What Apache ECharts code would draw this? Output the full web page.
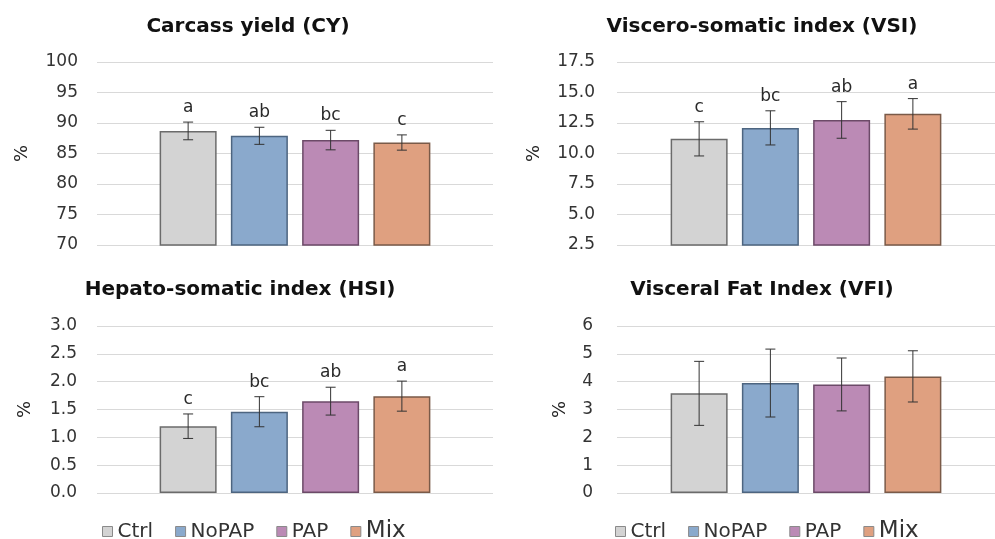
<!DOCTYPE html>
<html>
<head>
<meta charset="utf-8">
<script src="https://cdn.jsdelivr.net/npm/echarts@6/dist/echarts.min.js"></script>
<style>
  html, body { margin: 0; padding: 0; background: #ffffff; }
  #chart { width: 995px; height: 539px; }
</style>
</head>
<body>
<div id="chart"></div>
<script>
// Treatment groups
const groups = ['Ctrl', 'NoPAP', 'PAP', 'Mix'];

// Panel titles
const titles = [
  'Carcass yield (CY)',
  'Viscero-somatic index (VSI)',
  'Hepato-somatic index (HSI)',
  'Visceral Fat Index (VFI)'
];

// Means (%)
const cyMean  = [88.7, 87.9, 87.2, 86.8];
const vsiMean = [11.2, 12.1, 12.75, 13.25];
const hsiMean = [1.20, 1.46, 1.65, 1.74];
const vfiMean = [3.58, 3.95, 3.90, 4.19];

// Standard deviations (%)
const cySd  = [1.45, 1.40, 1.60, 1.25];
const vsiSd = [1.40, 1.40, 1.50, 1.25];
const hsiSd = [0.22, 0.27, 0.25, 0.27];
const vfiSd = [1.15, 1.22, 0.95, 0.92];

// Significance letters
const cyLetters  = ['a', 'ab', 'bc', 'c'];
const vsiLetters = ['c', 'bc', 'ab', 'a'];
const hsiLetters = ['c', 'bc', 'ab', 'a'];
const vfiLetters = ['', '', '', ''];

// Y-axis tick labels
const cyTicks  = [70, 75, 80, 85, 90, 95, 100];
const vsiTicks = [2.5, 5.0, 7.5, 10.0, 12.5, 15.0, 17.5];
const hsiTicks = [0.0, 0.5, 1.0, 1.5, 2.0, 2.5, 3.0];
const vfiTicks = [0, 1, 2, 3, 4, 5, 6];

const panels = [
  { mean: cyMean,  sd: cySd,  letters: cyLetters,  ticks: cyTicks,  decimals: 0 },
  { mean: vsiMean, sd: vsiSd, letters: vsiLetters, ticks: vsiTicks, decimals: 1 },
  { mean: hsiMean, sd: hsiSd, letters: hsiLetters, ticks: hsiTicks, decimals: 1 },
  { mean: vfiMean, sd: vfiSd, letters: vfiLetters, ticks: vfiTicks, decimals: 0 }
];

const FONT = 'DejaVu Sans';
const fills   = ['#d3d3d3', '#8aa9cc', '#bb8ab5', '#dfa080'];
const borders = ['#6b6b6b', '#4d6580', '#6c4a68', '#7a5a48'];
const BAR_W = 57;
const BAR_GAP = '25%';

// Panel frames
const grids = [
  { left: 97,  width: 396, top: 62,  height: 183 },
  { left: 617, width: 388, top: 62,  height: 183 },
  { left: 97,  width: 396, top: 326, height: 167 },
  { left: 617, width: 388, top: 326, height: 167 }
];
const labelMargins = [19, 22, 20, 24];
const nameGaps = [66, 74, 63, 48];
const titlePos = [[248, 27], [762, 27], [240, 290], [762, 290]];

const xAxes = [], yAxes = [], series = [];

panels.forEach((p, pi) => {
  xAxes.push({
    type: 'category', gridIndex: pi, data: [''],
    axisLine: { show: false }, axisTick: { show: false }, axisLabel: { show: false }
  });
  const t = p.ticks;
  yAxes.push({
    type: 'value', gridIndex: pi,
    min: t[0], max: t[t.length - 1], interval: t[1] - t[0],
    name: '%', nameLocation: 'middle', nameRotate: 90, nameGap: nameGaps[pi],
    nameTextStyle: { fontFamily: FONT, fontSize: 18, color: '#222' },
    axisLine: { show: false }, axisTick: { show: false },
    axisLabel: {
      fontFamily: FONT, fontSize: 17, color: '#333', margin: labelMargins[pi],
      formatter: v => v.toFixed(p.decimals)
    },
    splitLine: { lineStyle: { color: '#d9d9d9', width: 1 } }
  });

  groups.forEach((g, gi) => {
    series.push({
      name: g, type: 'bar', xAxisIndex: pi, yAxisIndex: pi,
      data: [p.mean[gi]],
      barWidth: BAR_W, barGap: BAR_GAP,
      itemStyle: { color: fills[gi], borderColor: borders[gi], borderWidth: 1.5 },
      emphasis: { disabled: true }
    });
  });

  // Error bars (mean ± SD) with significance letters
  series.push({
    name: 'sd' + pi, type: 'custom', xAxisIndex: pi, yAxisIndex: pi,
    data: p.mean.map((m, i) => [0, m, p.sd[i]]),
    encode: { x: 0, y: 1 },
    z: 5, silent: true,
    renderItem: (params, api) => {
      const i = params.dataIndex;
      const m = api.value(1), s = api.value(2);
      const layout = api.barLayout({ barWidth: BAR_W, barGap: BAR_GAP, count: groups.length });
      const c = api.coord([0, m]);
      const x = c[0] + layout[i].offsetCenter;
      const yTop = api.coord([0, m + s])[1];
      const yBot = api.coord([0, m - s])[1];
      const cap = 5;
      const stroke = { stroke: '#333', lineWidth: 1 };
      const children = [
        { type: 'line', shape: { x1: x, y1: yTop, x2: x, y2: yBot }, style: stroke },
        { type: 'line', shape: { x1: x - cap, y1: yTop, x2: x + cap, y2: yTop }, style: stroke },
        { type: 'line', shape: { x1: x - cap, y1: yBot, x2: x + cap, y2: yBot }, style: stroke }
      ];
      if (p.letters[i]) {
        children.push({
          type: 'text',
          style: {
            x: x, y: yTop - 6, text: p.letters[i],
            font: '17px "' + FONT + '"', fill: '#2a2a2a',
            textAlign: 'center', textVerticalAlign: 'bottom'
          }
        });
      }
      return { type: 'group', children };
    }
  });
});

const legendBase = {
  orient: 'horizontal', top: 520, padding: 0, icon: 'rect',
  itemWidth: 10, itemHeight: 10, itemGap: 22, selectedMode: false,
  data: groups,
  itemStyle: { borderColor: '#8a8a8a', borderWidth: 1 },
  textStyle: {
    fontFamily: FONT, fontSize: 20, color: '#333',
    rich: { big: { fontFamily: FONT, fontSize: 23, color: '#333' } }
  },
  formatter: name => name === 'Mix' ? '{big|Mix}' : name
};

const option = {
  animation: false,
  backgroundColor: '#ffffff',
  grid: grids,
  xAxis: xAxes,
  yAxis: yAxes,
  series: series,
  legend: [
    Object.assign({}, legendBase, { left: 102 }),
    Object.assign({}, legendBase, { left: 615 })
  ],
  graphic: titles.map((t, i) => ({
    type: 'text', x: titlePos[i][0], y: titlePos[i][1],
    style: {
      text: t, font: 'bold 20px "' + FONT + '"', fill: '#111',
      textAlign: 'center', textVerticalAlign: 'middle'
    }
  }))
};

const chart = echarts.init(document.getElementById('chart'), null, { renderer: 'canvas' });
chart.setOption(option);
</script>
</body>
</html>
